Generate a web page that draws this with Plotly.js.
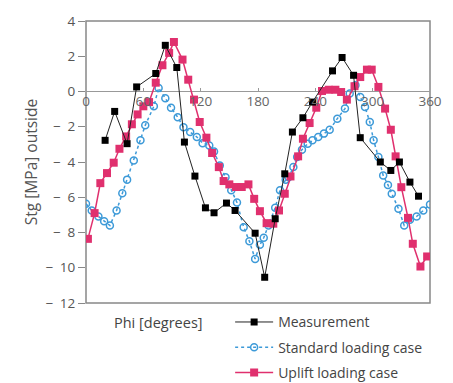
<!DOCTYPE html>
<html>
<head>
<meta charset="utf-8">
<script src="https://cdn.plot.ly/plotly-3.0.1.min.js"></script>
<style>html,body{margin:0;padding:0;background:#fff;}#chart{width:453px;height:383px;}</style>
</head>
<body>
<div id="chart"></div>
<script>
// Measurement
var phiMeas = [20, 30, 43, 53, 73, 83, 95, 103, 114, 125, 134, 147, 156, 177, 187, 198, 208, 216, 227, 237, 258, 268, 280, 287, 308, 319, 328, 339, 348];
var valMeas = [-2.77, -1.13, -2.96, 0.26, 1.02, 2.62, 1.36, -2.87, -4.8, -6.6, -6.88, -6.33, -6.75, -8.04, -10.54, -7.22, -4.67, -2.3, -1.49, -0.6, 1.17, 1.93, 0.92, -2.62, -4.0, -4.48, -4.0, -5.14, -5.94];

// Standard loading case
var phiStd = [0, 6, 13, 19, 25, 32, 38, 43, 50, 57, 62, 71, 76, 83, 89, 96, 102, 109, 116, 122, 129, 134, 140, 146, 152, 158, 165, 171, 177, 182, 186, 191, 198, 203, 209, 212, 217, 221, 226, 232, 237, 243, 249, 255, 263, 271, 276, 282, 287, 292, 297, 301, 306, 311, 316, 320, 327, 333, 339, 346, 353, 360];
var valStd = [-6.37, -6.75, -7.09, -7.36, -7.6, -6.75, -5.77, -5.0, -3.91, -2.77, -1.92, -0.84, 0.2, -0.38, -0.92, -1.46, -2.03, -2.3, -2.58, -2.93, -3.06, -3.4, -4.2, -4.86, -5.6, -6.3, -7.7, -8.5, -9.5, -8.7, -8.3, -7.6, -6.6, -5.6, -5.0, -4.86, -4.29, -3.72, -3.3, -2.96, -2.77, -2.58, -2.39, -2.17, -1.54, -0.97, -0.12, 0.35, -0.31, -0.88, -1.73, -2.77, -3.72, -4.76, -5.3, -5.8, -6.65, -7.6, -7.28, -7.09, -6.75, -6.41];

// Uplift loading case
var phiUp = [2, 9, 15, 22, 29, 35, 42, 48, 54, 60, 66, 73, 80, 87, 92, 101, 107, 113, 119, 126, 132, 139, 144, 150, 157, 163, 170, 176, 182, 189, 196, 202, 208, 214, 222, 227, 234, 241, 247, 254, 261, 267, 273, 281, 287, 294, 299, 306, 313, 319, 324, 330, 337, 342, 350, 357];
var valUp = [-8.36, -6.9, -5.2, -4.63, -4.04, -3.25, -2.55, -1.86, -1.3, -0.84, -0.6, 0.5, 1.49, 2.19, 2.81, 1.81, 0.67, -0.46, -1.73, -2.62, -3.49, -4.29, -5.08, -5.27, -5.42, -5.42, -5.27, -6.09, -6.79, -7.47, -7.5, -6.75, -5.8, -4.82, -3.68, -2.68, -1.79, -0.92, 0.03, 0.1, 0.1, -0.03, -0.46, 0.3, 0.82, 1.24, 1.24, 0.26, -0.97, -2.17, -3.68, -5.43, -7.17, -8.64, -9.93, -9.36];

var xTicks = [0, 60, 120, 180, 240, 300, 360];
var yTicks = [4, 2, 0, -2, -4, -6, -8, -10, -12];
var yTickText = yTicks.map(function (v) { return v < 0 ? '\u2212\u2002' + Math.abs(v) : String(v); });

var FONT = '"Open Sans", "Noto Sans", sans-serif';

var traces = [
  {x: phiStd, y: valStd, name: 'Standard loading case', type: 'scatter', mode: 'lines+markers',
   line: {color: '#3d9ad8', width: 1.5, dash: 'dot'},
   marker: {symbol: 'circle-open', size: 7, color: '#3d9ad8', line: {width: 1.5, color: '#3d9ad8'}},
   legendrank: 2, legendgroup: 'b'},
  {x: phiUp, y: valUp, name: 'Uplift loading case', type: 'scatter', mode: 'lines+markers',
   line: {color: '#e0306e', width: 1.5},
   marker: {symbol: 'square', size: 8, color: '#e0306e'},
   legendrank: 3, legendgroup: 'c'},
  {x: phiMeas, y: valMeas, name: 'Measurement', type: 'scatter', mode: 'lines+markers',
   line: {color: '#222222', width: 1},
   marker: {symbol: 'square', size: 7, color: '#000000'},
   legendrank: 1, legendgroup: 'a'}
];

var layout = {
  width: 453, height: 383,
  margin: {l: 86, r: 23, t: 21, b: 80, autoexpand: false},
  paper_bgcolor: '#ffffff', plot_bgcolor: '#ffffff',
  font: {family: FONT, size: 13, color: '#555555'},
  showlegend: true,
  legend: {x: 0.419, y: -0.012, xanchor: 'left', yanchor: 'top', orientation: 'v',
           font: {family: FONT, size: 14, color: '#444444'}, tracegroupgap: 4,
           itemwidth: 38, bgcolor: 'rgba(0,0,0,0)'},
  xaxis: {range: [0, 360], tickvals: xTicks, ticktext: xTicks.map(String),
          anchor: 'free', position: 0.75, showgrid: false, zeroline: false,
          showline: false, ticks: 'inside', ticklen: 4, tickcolor: '#999999',
          tickfont: {family: FONT, size: 13.5, color: '#666666'}},
  yaxis: {range: [-12, 4], tickvals: yTicks, ticktext: yTickText, showgrid: false,
          zeroline: true, zerolinecolor: '#999999', zerolinewidth: 1.5,
          showline: false, ticks: 'outside', ticklen: 7, tickcolor: '#888888',
          tickfont: {family: FONT, size: 13.5, color: '#555555'},
          title: {text: 'Stg [MPa] outside', font: {family: FONT, size: 15.5, color: '#555555'}, standoff: 3}},
  shapes: [{type: 'rect', xref: 'paper', yref: 'paper', x0: 0, x1: 1, y0: 0, y1: 1,
            line: {color: '#888888', width: 1.5}, layer: 'below'}],
  annotations: [{text: 'Phi [degrees]', xref: 'paper', yref: 'paper', x: 0.075, y: -0.068,
                 xanchor: 'left', yanchor: 'middle', showarrow: false,
                 font: {family: FONT, size: 14.5, color: '#444444'}}]
};

Plotly.newPlot('chart', traces, layout, {displayModeBar: false, staticPlot: true});
</script>
</body>
</html>
